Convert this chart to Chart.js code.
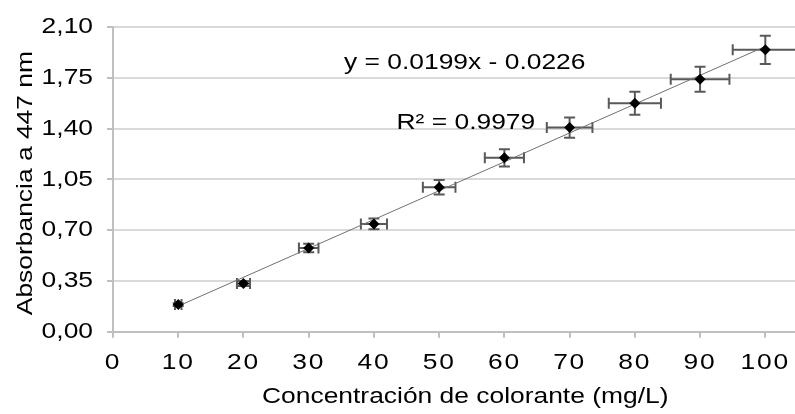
<!DOCTYPE html>
<html>
<head>
<meta charset="utf-8">
<script src="https://cdn.jsdelivr.net/npm/chart.js@4.4.1/dist/chart.umd.min.js"></script>
<style>
  html, body { margin: 0; padding: 0; overflow: hidden; background: #ffffff; }
  #wrap { width: 823px; height: 414px; }
</style>
</head>
<body>
<div id="wrap"><canvas id="curva" width="823" height="414"></canvas></div>
<script>
// Curva de calibración: absorbancia a 447 nm frente a concentración de colorante
const concentracion = [10, 20, 30, 40, 50, 60, 70, 80, 90, 100];          // mg/L
const absorbancia   = [0.187, 0.333, 0.577, 0.743, 0.996, 1.199, 1.408, 1.575, 1.741, 1.944];
const errorConc     = [0.5, 1, 1.5, 2, 2.5, 3, 3.5, 4, 4.5, 5];           // ± mg/L
const errorAbs      = [0.009, 0.017, 0.029, 0.037, 0.050, 0.060, 0.070, 0.079, 0.087, 0.097];

// Regresión lineal
const pendiente  = 0.0199;
const intercepto = -0.0226;
const r2         = 0.9979;
const rangoTendencia = [10, 100];

const textoEcuacion = 'y = ' + pendiente.toFixed(4) + 'x - ' + Math.abs(intercepto).toFixed(4);
const textoR2 = 'R\u00B2 = ' + r2.toFixed(4);

const FUENTE = '"Liberation Sans", Arial, Helvetica, sans-serif';
const ANCHO_TEXTO = 1.2;   // letra algo más ancha que la Arial normal
Chart.defaults.font.family = FUENTE;
Chart.defaults.font.size = 22;
Chart.defaults.color = '#000000';

// Texto ensanchado horizontalmente alrededor de su punto de anclaje
const textoAncho = {
  id: 'textoAncho',
  beforeInit(chart) {
    const ctx = chart.ctx;
    const nativo = CanvasRenderingContext2D.prototype.fillText;
    ctx.fillText = function (t, x, y, maxW) {
      this.save();
      this.translate(x, y);
      this.scale(ANCHO_TEXTO, 1);
      if (maxW === undefined) nativo.call(this, t, 0, 0);
      else nativo.call(this, t, 0, 0, maxW / ANCHO_TEXTO);
      this.restore();
    };
  },
  afterLayout(chart) {
    const sx = chart.scales.x;
    if (sx && !sx._espaciado) {
      const original = sx.drawLabels;
      sx.drawLabels = function (area) {
        const c = this.ctx;
        const previo = c.letterSpacing;
        c.letterSpacing = '1.5px';
        original.call(this, area);
        c.letterSpacing = previo;
      };
      sx._espaciado = true;
    }
  }
};

// Barras de error en ambos ejes
const barrasError = {
  id: 'barrasError',
  beforeDatasetsDraw(chart) {
    const { ctx, chartArea: a, scales: { x, y } } = chart;
    const cap = 5.5;
    ctx.save();
    ctx.beginPath();
    ctx.rect(a.left, a.top - 12, a.right - a.left, a.bottom - a.top + 24);
    ctx.clip();
    ctx.strokeStyle = '#595959';
    ctx.lineWidth = 2;
    concentracion.forEach((c, i) => {
      const v = absorbancia[i];
      const px = x.getPixelForValue(c);
      const py = y.getPixelForValue(v);
      const x0 = x.getPixelForValue(c - errorConc[i]);
      const x1 = x.getPixelForValue(c + errorConc[i]);
      const y0 = y.getPixelForValue(v - errorAbs[i]);
      const y1 = y.getPixelForValue(v + errorAbs[i]);
      ctx.beginPath();
      ctx.moveTo(x0, py); ctx.lineTo(x1, py);
      ctx.moveTo(x0, py - cap); ctx.lineTo(x0, py + cap);
      ctx.moveTo(x1, py - cap); ctx.lineTo(x1, py + cap);
      ctx.moveTo(px, y0); ctx.lineTo(px, y1);
      ctx.moveTo(px - cap, y0); ctx.lineTo(px + cap, y0);
      ctx.moveTo(px - cap, y1); ctx.lineTo(px + cap, y1);
      ctx.stroke();
    });
    ctx.restore();
  }
};

// Ecuación de la recta y coeficiente de determinación
const ecuacion = {
  id: 'ecuacion',
  afterDatasetsDraw(chart) {
    const ctx = chart.ctx;
    ctx.save();
    ctx.font = '22px ' + FUENTE;
    ctx.fillStyle = '#000000';
    ctx.textAlign = 'left';
    ctx.textBaseline = 'alphabetic';
    ctx.fillText(textoEcuacion, 344, 69);
    ctx.fillText(textoR2, 396.5, 128.5);
    ctx.restore();
  }
};

new Chart(document.getElementById('curva'), {
  type: 'scatter',
  data: {
    datasets: [
      {
        label: 'Tendencia',
        type: 'line',
        data: rangoTendencia.map(c => ({ x: c, y: pendiente * c + intercepto })),
        borderColor: '#707070',
        borderWidth: 1,
        pointRadius: 0,
        fill: false,
        order: 2
      },
      {
        label: 'Absorbancia',
        data: concentracion.map((c, i) => ({ x: c, y: absorbancia[i] })),
        pointStyle: 'rectRot',
        pointRadius: 5.5,
        pointBackgroundColor: '#000000',
        pointBorderColor: '#000000',
        pointBorderWidth: 0,
        order: 1
      }
    ]
  },
  options: {
    responsive: false,
    animation: false,
    layout: { padding: { top: 24.5, right: 0, bottom: 0, left: 0 } },
    plugins: { legend: { display: false }, tooltip: { enabled: false } },
    scales: {
      x: {
        type: 'linear',
        position: 'bottom',
        min: 0,
        max: 108,
        afterFit(s) { s.height = 82.3; },
        ticks: {
          stepSize: 10,
          includeBounds: false,
          autoSkip: false,
          maxRotation: 0,
          padding: 12,
          color: '#000000'
        },
        grid: {
          drawOnChartArea: false,
          drawTicks: true,
          tickLength: 6,
          tickColor: '#bfbfbf',
          lineWidth: 2
        },
        border: { color: '#bfbfbf', width: 2 },
        title: {
          display: true,
          text: 'Concentración de colorante (mg/L)',
          color: '#000000',
          padding: { top: 0, bottom: 3.5 }
        }
      },
      y: {
        type: 'linear',
        min: 0,
        max: 2.1,
        afterFit(s) { s.width = 113; },
        ticks: {
          stepSize: 0.35,
          padding: 14,
          color: '#000000',
          callback: v => v.toFixed(2).replace('.', ',')
        },
        grid: {
          color: '#d9d9d9',
          lineWidth: 2,
          tickLength: 6,
          tickColor: '#bfbfbf'
        },
        border: { color: '#bfbfbf', width: 2 },
        title: {
          display: true,
          text: 'Absorbancia a 447 nm ',
          color: '#000000',
          padding: { top: 12.5, bottom: 0 }
        }
      }
    }
  },
  plugins: [textoAncho, barrasError, ecuacion]
});
</script>
</body>
</html>
